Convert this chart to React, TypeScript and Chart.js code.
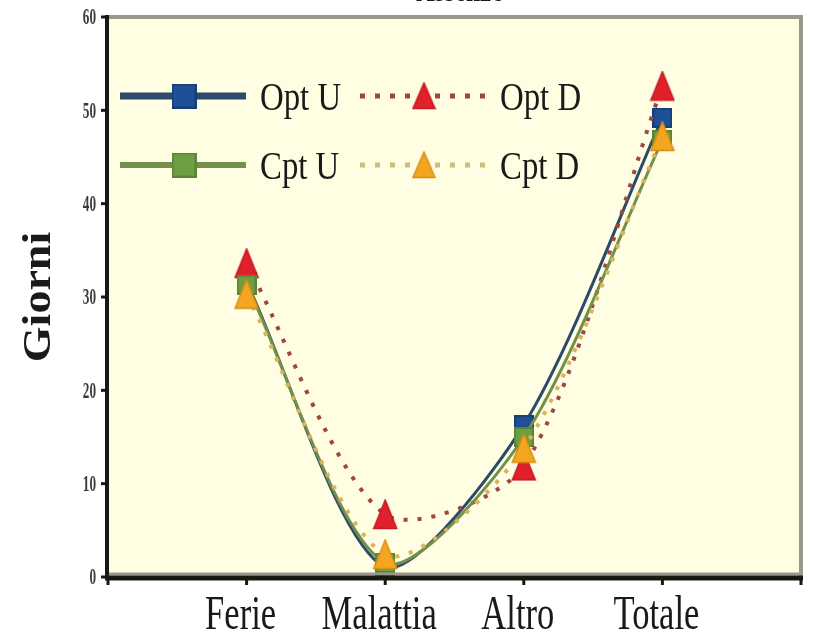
import React, { useEffect, useRef } from 'react';
import { Chart, registerables } from 'chart.js';

Chart.register(...registerables);

// Categories (blank slots at both ends keep the curves away from the frame)
const categories = ['', 'Ferie', 'Malattia', 'Altro', 'Totale', ''];

// Days per category for each group
const optU = [null, 31.6, 1.0, 16.3, 49.2, null];
const optD = [null, 33.6, 6.7, 11.9, 52.6, null];
const cptU = [null, 31.3, 1.5, 15.0, 46.8, null];
const cptD = [null, 30.3, 2.4, 13.8, 47.2, null];

const seriesNames = ['Opt U', 'Opt D', 'Cpt U', 'Cpt D'];
const yMin = 0;
const yMax = 60;
const yStep = 10;
const chartTitle = 'Assenze';
const yTitle = 'Giorni';

const SERIF = '"Liberation Serif", "Times New Roman", serif';

function triangleMarker(fill: string, edge: string, w: number, h: number) {
  const c = document.createElement('canvas');
  c.width = w;
  c.height = h;
  const g = c.getContext('2d')!;
  g.beginPath();
  g.moveTo(w / 2, 1);
  g.lineTo(w - 1.5, h - 1.5);
  g.lineTo(1.5, h - 1.5);
  g.closePath();
  g.fillStyle = fill;
  g.fill();
  g.strokeStyle = edge;
  g.lineWidth = 1.5;
  g.stroke();
  return c;
}

function squareMarker(fill: string, edge: string, s: number) {
  const c = document.createElement('canvas');
  c.width = s;
  c.height = s;
  const g = c.getContext('2d')!;
  g.fillStyle = fill;
  g.fillRect(0, 0, s, s);
  g.strokeStyle = edge;
  g.lineWidth = 2;
  g.strokeRect(1, 1, s - 2, s - 2);
  return c;
}

function squeezedText(
  ctx: CanvasRenderingContext2D,
  text: string,
  x: number,
  y: number,
  font: string,
  sx: number,
  align: CanvasTextAlign,
  color: string,
  baseline: CanvasTextBaseline = 'alphabetic'
) {
  ctx.save();
  ctx.font = font;
  ctx.fillStyle = color;
  ctx.textAlign = align;
  ctx.textBaseline = baseline;
  ctx.translate(x, y);
  ctx.scale(sx, 1);
  ctx.fillText(text, 0, 0);
  ctx.restore();
}

type LegendItem = {
  color: string;
  dash: number[];
  width: number;
  marker: HTMLCanvasElement;
};

const framePlugin = {
  id: 'frame',
  beforeDatasetsDraw(chart: any) {
    const { ctx, chartArea: a } = chart;
    ctx.save();
    ctx.fillStyle = '#FFFDE2';
    ctx.fillRect(a.left, a.top, a.right - a.left, a.bottom - a.top);
    ctx.restore();
  },
  afterDatasetsDraw(chart: any, _args: any, opts: any) {
    const { ctx, chartArea: a } = chart;
    const xs = chart.scales.x;
    const ys = chart.scales.y;
    ctx.save();

    // grey frame (top, right, inner bottom)
    ctx.strokeStyle = '#9A988C';
    ctx.lineWidth = 4;
    ctx.beginPath();
    ctx.moveTo(a.left, a.top);
    ctx.lineTo(a.right, a.top);
    ctx.lineTo(a.right, a.bottom);
    ctx.stroke();
    ctx.lineWidth = 3;
    ctx.beginPath();
    ctx.moveTo(a.left, a.bottom - 3);
    ctx.lineTo(a.right, a.bottom - 3);
    ctx.stroke();

    // black axes
    ctx.strokeStyle = '#1A1812';
    ctx.lineWidth = 4;
    ctx.beginPath();
    ctx.moveTo(a.left - 1, a.top - 2);
    ctx.lineTo(a.left - 1, a.bottom + 2);
    ctx.stroke();
    ctx.lineWidth = 5;
    ctx.beginPath();
    ctx.moveTo(a.left - 3, a.bottom + 1);
    ctx.lineTo(a.right + 2, a.bottom + 1);
    ctx.stroke();

    // y ticks and labels
    ctx.lineWidth = 3;
    ys.ticks.forEach((t: any) => {
      const y = ys.getPixelForValue(t.value);
      ctx.beginPath();
      ctx.moveTo(a.left - 7, y);
      ctx.lineTo(a.left, y);
      ctx.stroke();
      squeezedText(ctx, String(t.value), a.left - 12, y + 1, `bold 24px ${SERIF}`, 0.55, 'right', '#3A3A36', 'middle');
    });

    // x ticks and labels
    xs.ticks.forEach((_t: any, i: number) => {
      const x = xs.getPixelForTick(i);
      ctx.beginPath();
      ctx.moveTo(x, a.bottom);
      ctx.lineTo(x, a.bottom + 8);
      ctx.stroke();
      const label = categories[i];
      if (label) {
        squeezedText(ctx, label, x - 6, a.bottom + 52, `48px ${SERIF}`, 0.72, 'center', '#1A1A1A');
      }
    });

    // axis title
    ctx.save();
    ctx.translate(40, (a.top + a.bottom) / 2);
    ctx.rotate(-Math.PI / 2);
    ctx.scale(1, 0.85);
    ctx.font = `bold 46px ${SERIF}`;
    ctx.fillStyle = '#1A1A1A';
    ctx.textAlign = 'center';
    ctx.textBaseline = 'middle';
    ctx.fillText(yTitle, 0, 0);
    ctx.restore();

    // chart title (sits mostly above the canvas edge)
    squeezedText(ctx, chartTitle, (a.left + a.right) / 2 + 5, 1, `bold 34px ${SERIF}`, 0.75, 'center', '#1A1A1A');

    // legend, two columns inside the plot
    const items: LegendItem[] = opts.items;
    const cols = [120, 360];
    const rows = [96, 165];
    items.forEach((it, i) => {
      const x0 = cols[i % 2];
      const y = rows[Math.floor(i / 2)];
      ctx.save();
      ctx.strokeStyle = it.color;
      ctx.lineWidth = it.width;
      ctx.setLineDash(it.dash);
      ctx.lineCap = 'butt';
      ctx.beginPath();
      ctx.moveTo(x0, y);
      ctx.lineTo(x0 + 126, y);
      ctx.stroke();
      ctx.restore();
      const m = it.marker;
      ctx.drawImage(m, x0 + 64 - m.width / 2, y - m.height / 2);
      squeezedText(ctx, seriesNames[i], x0 + 140, y + 14, `41px ${SERIF}`, 0.8, 'left', '#1A1A1A');
    });

    ctx.restore();
  },
};

export default function App() {
  const ref = useRef<HTMLCanvasElement>(null);

  useEffect(() => {
    const canvas = ref.current!;
    const colors = {
      optU: '#2C4A6A',
      optD: '#9E4640',
      cptU: '#72904A',
      cptD: '#D8B45C',
    };
    const markers = {
      optU: squareMarker('#1F4F96', '#173E78', 20),
      optD: triangleMarker('#E0202A', '#C41A22', 26, 31),
      cptU: squareMarker('#6E9E42', '#5A8534', 20),
      cptD: triangleMarker('#F4A622', '#DA8E12', 26, 31),
    };
    const legendMarkers = {
      optU: squareMarker('#1F4F96', '#173E78', 25),
      optD: triangleMarker('#E0202A', '#C41A22', 25, 28),
      cptU: squareMarker('#6E9E42', '#5A8534', 25),
      cptD: triangleMarker('#F4A622', '#DA8E12', 25, 28),
    };

    const common = {
      fill: false,
      tension: 0.28,
      pointRadius: 10,
      pointHoverRadius: 10,
      borderCapStyle: 'butt' as const,
    };

    const chart = new Chart(canvas, {
      type: 'line',
      data: {
        labels: categories,
        datasets: [
          { ...common, label: seriesNames[0], data: optU, borderColor: colors.optU, borderWidth: 3, pointStyle: markers.optU, order: 4 },
          { ...common, label: seriesNames[1], data: optD, borderColor: colors.optD, borderWidth: 4, borderDash: [4, 10], pointStyle: markers.optD, order: 3 },
          { ...common, label: seriesNames[2], data: cptU, borderColor: colors.cptU, borderWidth: 3, pointStyle: markers.cptU, order: 2 },
          { ...common, label: seriesNames[3], data: cptD, borderColor: colors.cptD, borderWidth: 4, borderDash: [4, 10], pointStyle: markers.cptD, order: 1 },
        ] as any,
      },
      options: {
        animation: false,
        responsive: false,
        devicePixelRatio: 1,
        layout: { padding: { left: 108, top: 17, right: 4, bottom: 59 } },
        plugins: {
          legend: { display: false },
          tooltip: { enabled: false },
          title: { display: false },
          frame: {
            items: [
              { color: colors.optU, dash: [], width: 7, marker: legendMarkers.optU },
              { color: colors.optD, dash: [5, 10], width: 5, marker: legendMarkers.optD },
              { color: colors.cptU, dash: [], width: 6, marker: legendMarkers.cptU },
              { color: '#CDBE7A', dash: [5, 10], width: 5, marker: legendMarkers.cptD },
            ],
          },
        } as any,
        scales: {
          x: { display: false, offset: false },
          y: { display: false, min: yMin, max: yMax, ticks: { stepSize: yStep } },
        },
      },
      plugins: [framePlugin],
    });
    return () => chart.destroy();
  }, []);

  return (
    <div style={{ position: 'absolute', left: 0, top: 0, width: 815, height: 636, background: '#ffffff' }}>
      <canvas ref={ref} width={815} height={636} style={{ display: 'block' }} />
    </div>
  );
}
